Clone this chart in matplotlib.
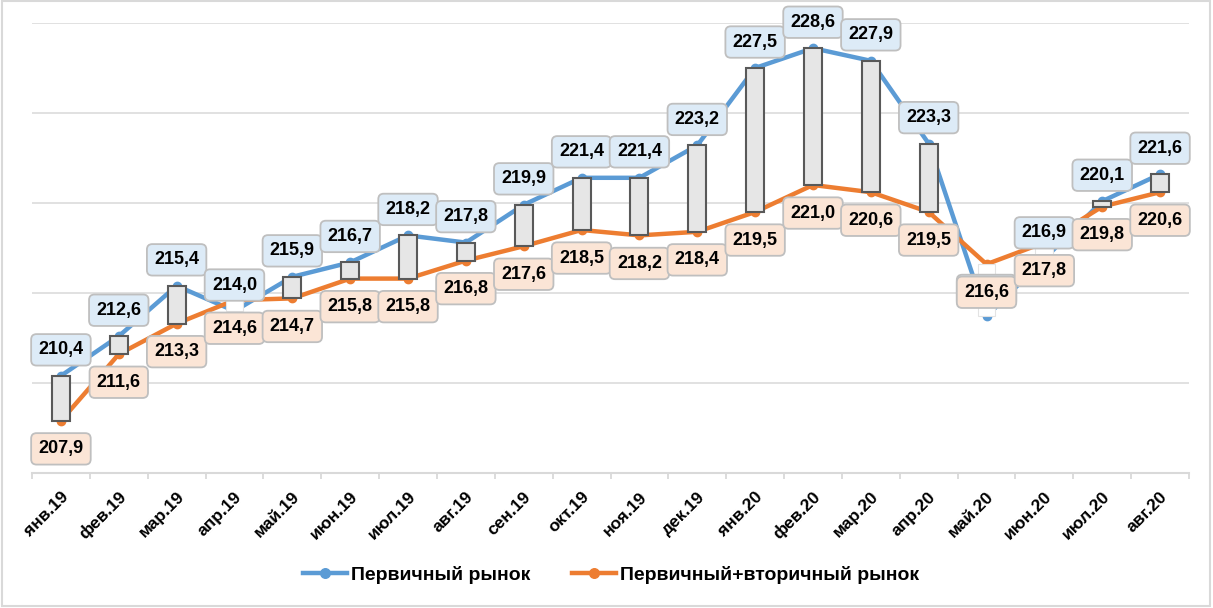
import matplotlib
matplotlib.use("Agg")
import matplotlib.pyplot as plt
import matplotlib.patches as mpatches
import matplotlib.transforms as mtransforms
import numpy as np

# ---------------- data ----------------
months = ["янв.19", "фев.19", "мар.19", "апр.19", "май.19", "июн.19", "июл.19", "авг.19",
          "сен.19", "окт.19", "ноя.19", "дек.19", "янв.20", "фев.20", "мар.20", "апр.20",
          "май.20", "июн.20", "июл.20", "авг.20"]
primary = [210.4, 212.6, 215.4, 214.0, 215.9, 216.7, 218.2, 217.8, 219.9, 221.4,
           221.4, 223.2, 227.5, 228.6, 227.9, 223.3, 213.7, 216.9, 220.1, 221.6]
combined = [207.9, 211.6, 213.3, 214.6, 214.7, 215.8, 215.8, 216.8, 217.6, 218.5,
            218.2, 218.4, 219.5, 221.0, 220.6, 219.5, 216.6, 217.8, 219.8, 220.6]
names = ["Первичный рынок", "Первичный+вторичный рынок"]

# ---------------- style ----------------
BLUE, ORANGE = "#5B9BD5", "#ED7D31"
GRID = "#D9D9D9"
plt.rcParams["font.family"] = ["Liberation Sans", "DejaVu Sans"]

fig = plt.figure(figsize=(12.13, 6.08), dpi=100)
ax = fig.add_axes([32 / 1213, 135 / 608, (1189 - 32) / 1213, (473 - 23) / 608])

x = np.arange(len(months))
ax.plot(x, primary, "-o", color=BLUE, lw=3.2, ms=6, zorder=3, label=names[0])
ax.plot(x, combined, "-o", color=ORANGE, lw=3.2, ms=6, zorder=3, label=names[1])

# up/down bars between the two series
bw = 0.31
for i, (p, c) in enumerate(zip(primary, combined)):
    lo, hi = min(p, c), max(p, c)
    if p >= c:
        fc, ec, lw = "#E6E6E6", "#595959", 1.5
    else:
        fc, ec, lw = "white", "#E3E3E3", 0.8
    ax.add_patch(mpatches.Rectangle((i - bw / 2, lo), bw, hi - lo, facecolor=fc,
                                    edgecolor=ec, linewidth=lw, zorder=4))

# data labels
def fmt(v):
    return f"{v:.1f}".replace(".", ",")

for series, dy, fill in [(primary, 18.7, "#DDEBF7"), (combined, -20.2, "#FBE5D6")]:
    for i, v in enumerate(series):
        ax.annotate(fmt(v), (i, v), xytext=(0, dy), textcoords="offset points",
                    ha="center", va="center", fontsize=13, fontweight="bold", color="black",
                    zorder=6, annotation_clip=False,
                    bbox=dict(boxstyle="round,pad=0.4,rounding_size=0.3", fc=fill,
                              ec="#BFBFBF", lw=1.3))

# axes
ax.set_xlim(-0.5, len(months) - 0.5)
ax.set_ylim(205, 230)
ax.set_yticks(np.arange(205, 231, 5))
ax.yaxis.grid(True, color=GRID, lw=1.1)
ax.set_axisbelow(True)
ax.tick_params(axis="y", left=False, labelleft=False)
for s in ("top", "right", "left"):
    ax.spines[s].set_visible(False)
ax.spines["bottom"].set_color(GRID)
ax.spines["bottom"].set_linewidth(1.5)

ax.set_xticks(x)
ax.set_xticklabels(months)
ax.set_xticks(np.arange(-0.5, len(months)), minor=True)
ax.tick_params(axis="x", which="major", length=0, pad=15.5)
ax.tick_params(axis="x", which="minor", length=4, color=GRID, width=1.3)
shift = mtransforms.ScaledTranslation(0.05, 0, fig.dpi_scale_trans)
for lab in ax.get_xticklabels():
    lab.set_rotation(45)
    lab.set_ha("right")
    lab.set_va("center")
    lab.set_rotation_mode("anchor")
    lab.set_fontsize(12.5)
    lab.set_fontweight("bold")
    lab.set_transform(lab.get_transform() + shift)

leg = ax.legend(loc="center", bbox_to_anchor=(611 / 1213, 1 - 575 / 608),
                bbox_transform=fig.transFigure, ncol=2, frameon=False,
                prop=dict(size=14, weight="bold"), handlelength=2.27,
                handletextpad=0.2, columnspacing=2.1, markerscale=1.15)

# chart-area border
fig.add_artist(mpatches.Rectangle((1.5 / 1213, 2 / 608), 1208.5 / 1213, 605 / 608,
                                  transform=fig.transFigure, fill=False,
                                  edgecolor=GRID, lw=1.5))

fig.savefig("out.png", dpi=100)
